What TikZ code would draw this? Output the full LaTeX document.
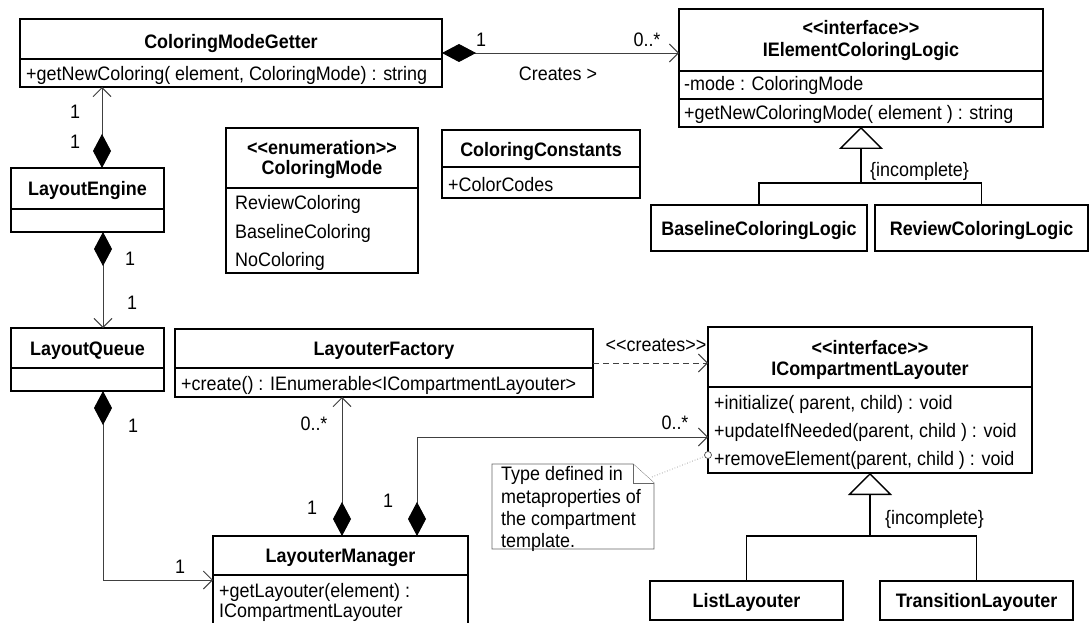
\documentclass[tikz,border=0pt]{standalone}
\usepackage{fontspec}
\setmainfont{Liberation Sans}[Ligatures=TeXOff,FakeStretch=0.92]
\usetikzlibrary{arrows.meta,calc}

\begin{document}
\begin{tikzpicture}[x=1pt,y=-1pt,
  cls/.style={draw=black,line width=1.4pt,fill=white,inner sep=0pt,outer sep=0pt},
  sep/.style={draw=black,line width=1.4pt},
  txt/.style={inner sep=0pt,text height=14pt,text depth=0pt,font=\fontsize{19.5}{23}\selectfont},
  ttl/.style={txt,font=\fontsize{19.5}{23}\selectfont\bfseries},
  mem/.style={txt,anchor=west},
  assoc/.style={draw=black!75,line width=0.9pt},
  compto/.style={assoc,{Diamond[length=34pt,width=18pt,color=black,fill=black]}-{Straight Barb[length=9pt,width=18pt]}},
  dep/.style={assoc,dash pattern=on 6pt off 4pt,-{Straight Barb[length=9pt,width=18pt]}},
  gen/.style={draw=black,line width=1.4pt},
  genhead/.style={gen,-{Triangle[open,length=22pt,width=44pt,fill=white]}},
  notebox/.style={draw=black!60,line width=0.8pt,fill=white},
  notelink/.style={draw=black!45,line width=0.7pt,dotted}]

\fill[white] (0,0) rectangle (1090,623);
\useasboundingbox (0,0) rectangle (1090,623);

% ---------- class boxes ----------
\node[cls,minimum width=422pt,minimum height=68pt]  (cmg)  at (231,53) {};
\node[cls,minimum width=364pt,minimum height=118pt] (iecl) at (861,68) {};
\node[cls,minimum width=198pt,minimum height=68pt]  (cc)   at (541,164) {};
\node[cls,minimum width=192pt,minimum height=145pt] (enum) at (322,200.5) {};
\node[cls,minimum width=216pt,minimum height=46pt]  (bcl)  at (759,228) {};
\node[cls,minimum width=213pt,minimum height=46pt]  (rcl)  at (981.5,228) {};
\node[cls,minimum width=153pt,minimum height=64pt]  (le)   at (87.5,200) {};
\node[cls,minimum width=153pt,minimum height=63pt]  (lq)   at (87.5,359.5) {};
\node[cls,minimum width=418pt,minimum height=68pt]  (lf)   at (384,363) {};
\node[cls,minimum width=324pt,minimum height=146pt] (icl)  at (870,400) {};
\node[cls,minimum width=255pt,minimum height=92pt]  (lm)   at (340.5,582) {};
\node[cls,minimum width=193pt,minimum height=39pt]  (ll)   at (746.5,600.5) {};
\node[cls,minimum width=193pt,minimum height=39pt]  (tl)   at (976.5,600.5) {};

% compartment separators
\draw[sep] (cmg.west |- 0,59)   -- (cmg.east |- 0,59);
\draw[sep] (iecl.west |- 0,71)  -- (iecl.east |- 0,71);
\draw[sep] (iecl.west |- 0,99)  -- (iecl.east |- 0,99);
\draw[sep] (cc.west |- 0,167)   -- (cc.east |- 0,167);
\draw[sep] (enum.west |- 0,188) -- (enum.east |- 0,188);
\draw[sep] (le.west |- 0,209)   -- (le.east |- 0,209);
\draw[sep] (lq.west |- 0,368)   -- (lq.east |- 0,368);
\draw[sep] (lf.west |- 0,368)   -- (lf.east |- 0,368);
\draw[sep] (icl.west |- 0,387)  -- (icl.east |- 0,387);
\draw[sep] (lm.west |- 0,575)   -- (lm.east |- 0,575);

% ---------- class texts ----------
\node[ttl] at (cmg.north |- 0,42) {ColoringModeGetter};
\node[mem] at (26,74) {+getNewColoring( element, ColoringMode) : string};

\node[ttl] at (iecl.north |- 0,28) {<<interface>>};
\node[ttl] at (iecl.north |- 0,50) {IElementColoringLogic};
\node[mem] at (684,84)  {-mode : ColoringMode};
\node[mem] at (684,113) {+getNewColoringMode( element ) : string};

\node[ttl] at (cc.north |- 0,150) {ColoringConstants};
\node[mem] at (448,184) {+ColorCodes};

\node[ttl] at (enum.north |- 0,147) {<<enumeration>>};
\node[ttl] at (enum.north |- 0,168) {ColoringMode};
\node[mem] at (235,202) {ReviewColoring};
\node[mem] at (235,231) {BaselineColoring};
\node[mem] at (235,259) {NoColoring};

\node[ttl] at (bcl) {BaselineColoringLogic};
\node[ttl] at (rcl) {ReviewColoringLogic};

\node[ttl] at (le.north |- 0,188) {LayoutEngine};
\node[ttl] at (lq.north |- 0,348) {LayoutQueue};

\node[ttl] at (lf.north |- 0,348) {LayouterFactory};
\node[mem] at (181,383) {+create() : IEnumerable<ICompartmentLayouter>};

\node[ttl] at (icl.north |- 0,347) {<<interface>>};
\node[ttl] at (icl.north |- 0,368) {ICompartmentLayouter};
\node[mem] at (714,402) {+initialize( parent, child) : void};
\node[mem] at (714,430) {+updateIfNeeded(parent, child ) : void};
\node[mem] at (714,458) {+removeElement(parent, child ) : void};

\node[ttl] at (lm.north |- 0,555) {LayouterManager};
\node[mem] at (219,590) {+getLayouter(element) :};
\node[mem] at (219,610) {ICompartmentLayouter};

\node[ttl] at (ll) {ListLayouter};
\node[ttl] at (tl) {TransitionLayouter};

% ---------- generalizations ----------
\coordinate (g1) at (iecl.south |- 0,183);
\draw[gen] (bcl.north) |- (g1) -| (rcl.north);
\draw[genhead] (g1) -- (iecl.south);
\node[mem] at (870,170) {\{incomplete\}};

\coordinate (g2) at (icl.south |- 0,536);
\draw[gen] (ll.north) |- (g2) -| (tl.north);
\draw[genhead] (g2) -- (icl.south);
\node[mem] at (885,517) {\{incomplete\}};

% ---------- compositions and dependency ----------
\draw[compto] (cmg.east |- 0,53) -- (iecl.west |- 0,53);
\node[txt] at (481,40) {1};
\node[txt] at (647,40) {0..*};
\node[txt] at (558,74) {Creates >};

\draw[compto] (le.north -| 102,0) -- (cmg.south -| 102,0);
\node[txt] at (75,112) {1};
\node[txt] at (75,142) {1};

\draw[compto] (le.south -| 103,0) -- (lq.north -| 103,0);
\node[txt] at (130,258) {1};
\node[txt] at (132,302) {1};

\draw[compto] (lq.south -| 103,0) |- (lm.west |- 0,580);
\node[txt] at (133,425) {1};
\node[txt] at (180,566) {1};

\draw[compto] (lm.north -| 342,0) -- (lf.south -| 342,0);
\node[txt] at (314,423) {0..*};
\node[txt] at (312,507) {1};

\draw[compto] (lm.north -| 417,0) |- (icl.west |- 0,437);
\node[txt] at (675,422) {0..*};
\node[txt] at (388,500) {1};

\draw[dep] (lf.east |- 0,363) -- (icl.west |- 0,363);
\node[txt] at (656,344) {<<creates>>};

% ---------- note ----------
\node[minimum width=162pt,minimum height=85pt,inner sep=0pt,outer sep=0pt] (note) at (573,506.5) {};
\draw[notebox] (note.north west) -- ($(note.north east)+(-21,0)$) -- ($(note.north east)+(0,19)$)
  -- (note.south east) -- (note.south west) -- cycle;
\draw[notebox] ($(note.north east)+(-21,0)$) |- ($(note.north east)+(0,19)$);
\node[mem] at (501,473) {Type defined in};
\node[mem] at (501,496) {metaproperties of};
\node[mem] at (501,518) {the compartment};
\node[mem] at (501,540) {template.};

\node[circle,draw=black!70,line width=0.7pt,fill=white,inner sep=0pt,minimum size=7pt] (pin) at (icl.west |- 0,455) {};
\draw[notelink] ($(note.north east)+(-2,13)$) -- (pin);

\end{tikzpicture}
\end{document}
